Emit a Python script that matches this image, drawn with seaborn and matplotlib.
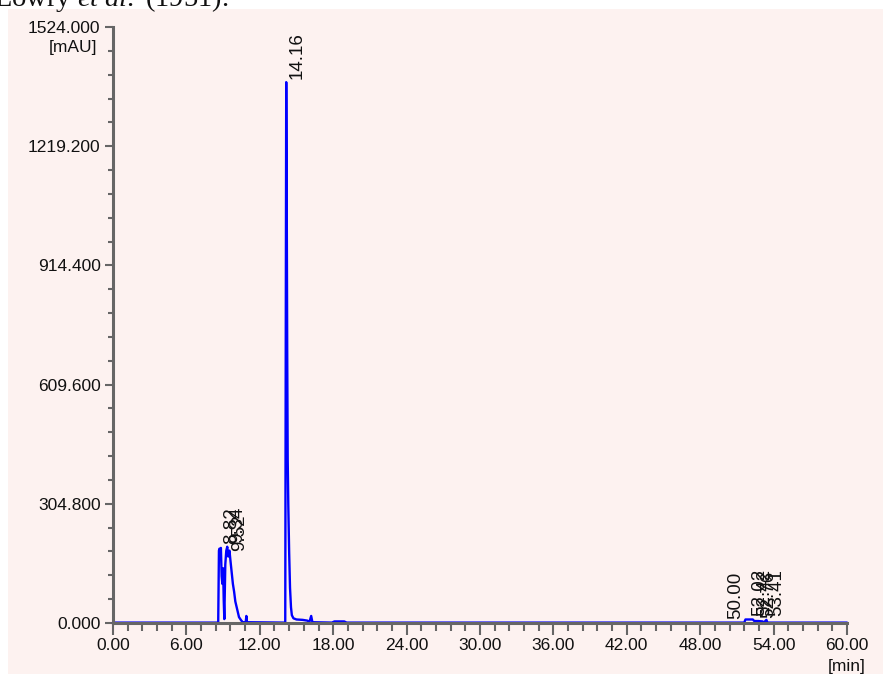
import matplotlib
matplotlib.use('Agg')
import matplotlib.pyplot as plt
from matplotlib.patches import Rectangle
from matplotlib.ticker import MultipleLocator, FormatStrFormatter
import seaborn as sns

# chromatogram trace (time in min, signal in mAU)
time_min = [0.00, 8.60, 8.66, 8.70, 8.76, 8.82, 8.88, 8.94, 9.00, 9.05, 9.10,
            9.18, 9.26, 9.34, 9.42, 9.52, 9.60, 9.70, 9.80, 9.90, 10.00,
            10.15, 10.30, 10.45, 10.60, 10.85, 10.90, 10.95,
            14.08, 14.12, 14.16, 14.20, 14.24, 14.28, 14.33, 14.40, 14.47,
            14.55, 14.62, 14.75, 15.00, 15.50, 15.90, 16.05, 16.20, 16.30,
            17.90, 18.10, 18.90, 19.10,
            51.60, 51.70, 52.02, 52.30, 52.42, 52.76, 53.10, 53.20, 53.41,
            53.50, 60.00]
signal_mau = [1, 1, 185, 190, 180, 192, 120, 100, 140, 60, 10,
              150, 185, 195, 170, 185, 160, 130, 100, 80, 55,
              35, 15, 8, 2, 2, 18, 2,
              1, 700, 1383, 1100, 700, 420, 300, 180, 90,
              40, 20, 12, 9, 8, 6, 2, 18, 2,
              1, 4, 4, 1,
              1, 9, 9, 9, 5, 5, 4, 1, 8,
              1, 1]

# labelled peaks: retention time and apex height
peak_times = [8.82, 9.34, 9.52, 14.16, 50.00, 52.02, 52.42, 52.76, 53.41]
peak_tops = [192, 195, 175, 1383, 1, 9, 9, 5, 8]

sns.set_theme(style='ticks')
plt.rcParams['font.family'] = ['Liberation Sans', 'DejaVu Sans']
plt.rcParams['mathtext.fontset'] = 'custom'
plt.rcParams['mathtext.rm'] = 'Liberation Serif'
plt.rcParams['mathtext.it'] = 'Liberation Serif:italic'

W, H = 883, 674
fig = plt.figure(figsize=(W / 100, H / 100), dpi=100, facecolor='white')

# pink panel behind the chart
fig.add_artist(Rectangle((8 / W, 0), 1, (H - 9) / H, transform=fig.transFigure,
                         facecolor='#fdf2f0', edgecolor='none', zorder=-5))
# caption fragment cut off at the top
fig.text(-6 / W, 1 - 6 / H, r'Lowry $\it{et\ al.}$ (1951).', family='Liberation Serif',
         fontsize=20.5, va='baseline', ha='left', color='#111111')

ax = fig.add_axes([113 / W, 51 / H, 734 / W, 596 / H])
ax.set_facecolor('none')

sns.lineplot(x=time_min, y=signal_mau, ax=ax, color='#0000ff', linewidth=1.7,
             estimator=None, sort=False)
for ln in ax.get_lines():
    ln.set_clip_on(False)

ax.set_xlim(0, 60)
ax.set_ylim(0, 1524)
ax.xaxis.set_major_locator(MultipleLocator(6))
ax.xaxis.set_minor_locator(MultipleLocator(1.2))
ax.yaxis.set_major_locator(MultipleLocator(304.8))
ax.yaxis.set_minor_locator(MultipleLocator(60.96))
ax.xaxis.set_major_formatter(FormatStrFormatter('%.2f'))
ax.yaxis.set_major_formatter(FormatStrFormatter('%.3f'))

for side in ['top', 'right']:
    ax.spines[side].set_visible(False)
for side in ['left', 'bottom']:
    ax.spines[side].set_color('#666666')
    ax.spines[side].set_linewidth(2.2)

ax.tick_params(axis='both', which='both', direction='out', color='#666666',
               width=1.5, labelsize=12.5, labelcolor='#111111')
ax.tick_params(axis='x', which='major', length=8.5, pad=2.5)
ax.tick_params(axis='x', which='minor', length=6)
ax.tick_params(axis='y', which='major', length=6, pad=3)
ax.tick_params(axis='y', which='minor', length=3.6)
ax.set_xlabel('')
ax.set_ylabel('')

# unit labels
ax.annotate('[mAU]', xy=(0, 1), xycoords='axes fraction', xytext=(-11.5, -14.5),
            textcoords='offset points', ha='right', va='center', fontsize=12.5,
            color='#111111')
ax.annotate('[min]', xy=(1, 0), xycoords='axes fraction', xytext=(0, -31),
            textcoords='offset points', ha='center', va='center', fontsize=12.5,
            color='#111111', annotation_clip=False)

# retention time labels
for t, top in zip(peak_times, peak_tops):
    ax.annotate(f'{t:.2f}', xy=(t, top), xytext=(1.5, 2.5), textcoords='offset points',
                rotation=90, ha='left', va='bottom', fontsize=13.5, color='#111111')

fig.savefig('out.png', dpi=100, facecolor='white')
